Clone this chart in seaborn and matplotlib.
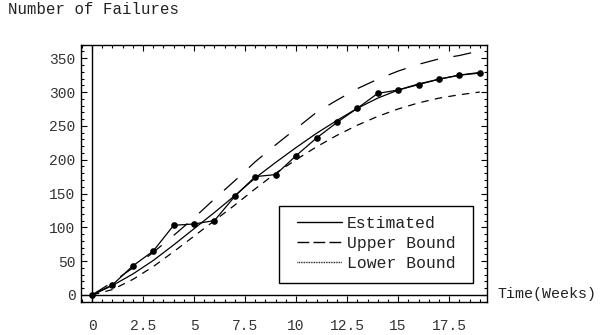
import matplotlib
matplotlib.use("Agg")
import matplotlib.pyplot as plt
from matplotlib.ticker import MultipleLocator, FixedLocator
from matplotlib.lines import Line2D
from matplotlib.patches import Rectangle
import seaborn as sns

# ---- data ----
weeks = [0, 1, 2, 3, 4, 5, 6, 7, 8, 9, 10, 11, 12, 13, 14, 15, 16, 17, 18, 19]
observed = [0, 15, 43, 65, 103, 105, 110, 146, 175, 178, 206, 232, 255, 276, 298, 303, 311, 319, 325, 328]
estimated = [0, 14, 31, 51, 74, 98, 122, 147, 173, 196, 218, 239, 258, 276, 291, 303, 312, 319, 325, 329]
upper = [0, 19, 40, 63, 88, 114, 142, 169, 197, 222, 246, 270, 288, 305, 319, 331, 341, 349, 354, 361]
lower = [0, 8, 23, 42, 64, 87, 110, 133, 157, 180, 200, 219, 236, 251, 264, 275, 284, 291, 296, 300]
xticks = [0, 2.5, 5, 7.5, 10, 12.5, 15, 17.5]
xtick_labels = ["0", "2.5", "5", "7.5", "10", "12.5", "15", "17.5"]
yticks = [0, 50, 100, 150, 200, 250, 300, 350]
legend_labels = ["Estimated", "Upper Bound", "Lower Bound"]

sns.set_style("white")
MONO = ["Liberation Mono", "DejaVu Sans Mono"]

W, H = 600, 335
AX_L, AX_R, AX_T, AX_B = 81, 486.7, 44.7, 302.3
fig = plt.figure(figsize=(6, 3.35), dpi=100)
ax = fig.add_axes([AX_L / W, 1 - AX_B / H, (AX_R - AX_L) / W, (AX_B - AX_T) / H])


def axfrac(px, py):
    return (px - AX_L) / (AX_R - AX_L), (AX_B - py) / (AX_B - AX_T)


# axes lines through the origin
ax.axhline(0, color="black", lw=1.0, zorder=1)
ax.axvline(0, color="black", lw=1.0, zorder=1)

sns.lineplot(x=weeks, y=upper, ax=ax, color="black", lw=0.9)
ax.lines[-1].set_dashes((14.5, 12.5))
sns.lineplot(x=weeks, y=lower, ax=ax, color="black", lw=0.9)
ax.lines[-1].set_dashes((6, 5))
sns.lineplot(x=weeks, y=estimated, ax=ax, color="black", lw=0.9)
sns.lineplot(x=weeks, y=observed, ax=ax, color="black", lw=0.9,
             marker="o", markersize=4.8, markeredgewidth=0, markerfacecolor="black")

ax.set_xlim(-0.54, 19.34)
ax.set_ylim(-10.8, 370)

for s in ax.spines.values():
    s.set_visible(True)
    s.set_color("black")
    s.set_linewidth(1.0)

ax.xaxis.set_major_locator(FixedLocator(xticks))
ax.set_xticklabels(xtick_labels)
ax.xaxis.set_minor_locator(MultipleLocator(0.5))
ax.yaxis.set_major_locator(FixedLocator(yticks))
ax.set_yticklabels([str(v) for v in yticks])
ax.yaxis.set_minor_locator(MultipleLocator(10))

ax.tick_params(which="both", direction="in", top=True, right=True, bottom=True, left=True,
               color="black", width=0.8)
ax.tick_params(which="major", length=4)
ax.tick_params(which="minor", length=2)
ax.tick_params(axis="x", which="major", pad=12)
ax.tick_params(axis="y", which="major", pad=4)
for lab in ax.get_xticklabels() + ax.get_yticklabels():
    lab.set_family(MONO)
    lab.set_fontsize(10.5)
    lab.set_color("#333333")

ax.set_xlabel("")
ax.set_ylabel("")

fig.text(7.5 / W, 1 - 13.5 / H, "Number of Failures", family=MONO, fontsize=11.3,
         va="baseline", ha="left", color="#222222")
fig.text(497 / W, 1 - 298 / H, "Time(Weeks)", family=MONO, fontsize=10.8,
         va="baseline", ha="left", color="#222222")

# legend box
bx0, by0 = axfrac(279, 283.3)
bx1, by1 = axfrac(472.5, 205.7)
ax.add_patch(Rectangle((bx0, by0), bx1 - bx0, by1 - by0, transform=ax.transAxes,
                       facecolor="white", edgecolor="black", lw=1.0, zorder=4.5))

handles = [
    Line2D([], [], color="black", lw=1.0),
    Line2D([], [], color="black", lw=1.0, dashes=(8.5, 3)),
    Line2D([], [], color="black", lw=1.0, dashes=(0.6, 0.6)),
]
leg = ax.legend(handles, legend_labels, loc="upper left",
                bbox_to_anchor=axfrac(296.7, 215.5),
                prop={"family": MONO, "size": 11.8}, frameon=False,
                borderaxespad=0, borderpad=0,
                handlelength=2.75, handletextpad=0.3, labelspacing=0.32)
leg.set_zorder(5)
for t in leg.get_texts():
    t.set_color("#222222")

fig.savefig("out.png", dpi=100)
